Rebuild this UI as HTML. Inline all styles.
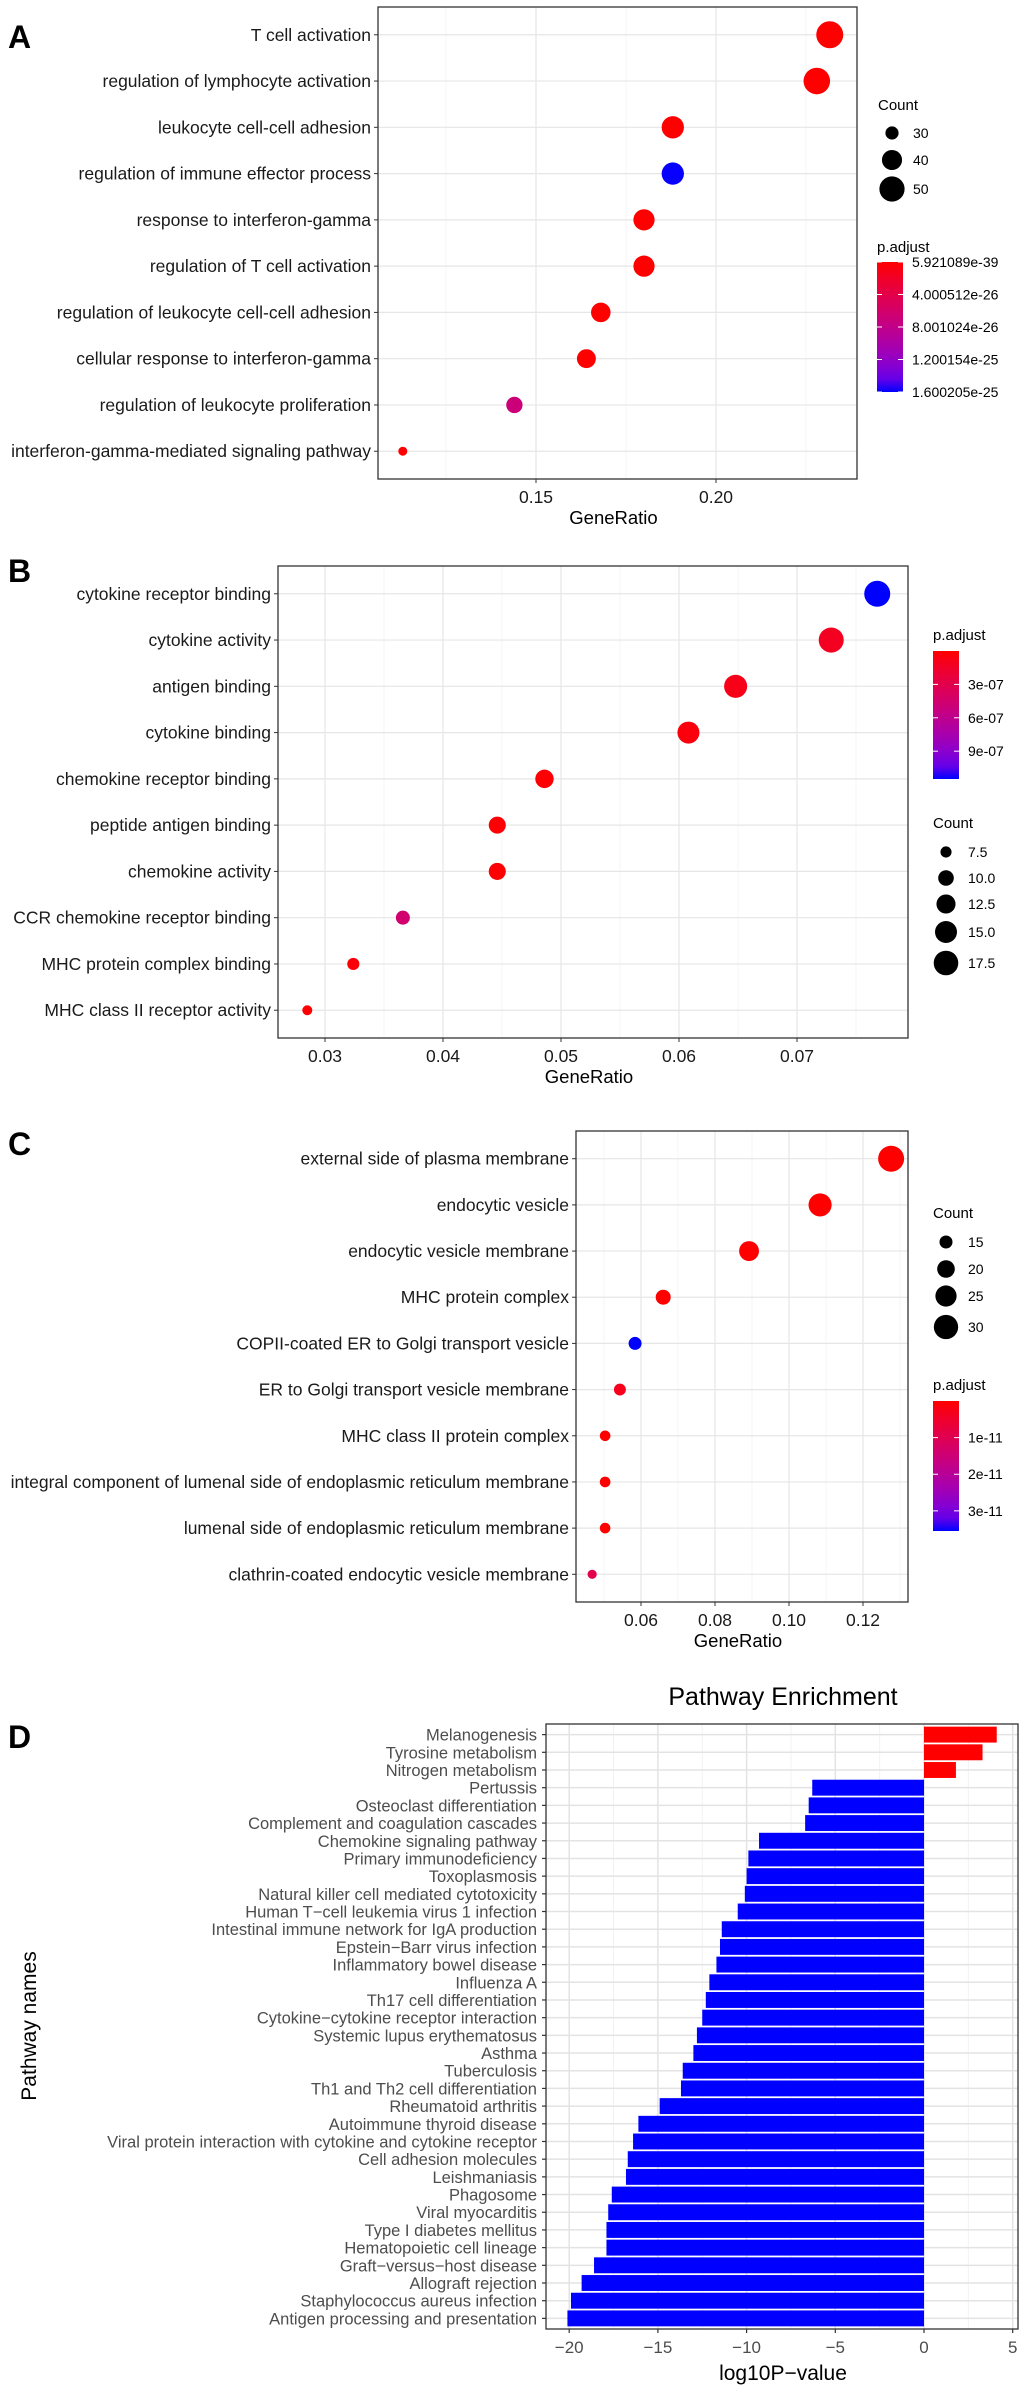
<!DOCTYPE html>
<html><head><meta charset="utf-8"><style>
html,body{margin:0;padding:0;background:#fff;}
svg{display:block;font-family:"Liberation Sans",Arial,sans-serif;}
</style></head><body>
<svg id="fig" width="1020" height="2391" viewBox="0 0 1020 2391" xmlns="http://www.w3.org/2000/svg">
<defs id="defs"></defs>
</svg>
<script>
// ---------- Panel A data ----------
const aTerms = ["T cell activation","regulation of lymphocyte activation","leukocyte cell-cell adhesion","regulation of immune effector process","response to interferon-gamma","regulation of T cell activation","regulation of leukocyte cell-cell adhesion","cellular response to interferon-gamma","regulation of leukocyte proliferation","interferon-gamma-mediated signaling pathway"];
const aRatio = [0.2316,0.228,0.188,0.188,0.180,0.180,0.168,0.164,0.144,0.113];
const aCount = [54,53,44,44,42,42,39,38,34,26];
const aPadj = [5.9e-39,1e-38,1e-38,1.6e-25,1e-38,1e-38,1e-38,1e-38,7e-26,1e-38];
const aTicks = [0.15,0.20];
const aTickLabels = ["0.15","0.20"];
const aCountKeys = [30,40,50];
const aPKeys = [5.921089e-39,4.000512e-26,8.001024e-26,1.200154e-25,1.600205e-25];
const aPLabels = ["5.921089e-39","4.000512e-26","8.001024e-26","1.200154e-25","1.600205e-25"];
// ---------- Panel B data ----------
const bTerms = ["cytokine receptor binding","cytokine activity","antigen binding","cytokine binding","chemokine receptor binding","peptide antigen binding","chemokine activity","CCR chemokine receptor binding","MHC protein complex binding","MHC class II receptor activity"];
const bRatio = [0.0768,0.0729,0.0648,0.0608,0.0486,0.0446,0.0446,0.0366,0.0324,0.0285];
const bCount = [19,18,16,15,12,11,11,9,8,7];
const bPadj = [1.15e-6,1.2e-7,8e-8,4e-8,1e-8,1e-8,1e-8,4.5e-7,3e-8,1e-8];
const bTicks = [0.03,0.04,0.05,0.06,0.07];
const bTickLabels = ["0.03","0.04","0.05","0.06","0.07"];
const bCountKeys = [7.5,10,12.5,15,17.5];
const bPKeys = [3e-7,6e-7,9e-7];
const bPLabels = ["3e-07","6e-07","9e-07"];
// ---------- Panel C data ----------
const cTerms = ["external side of plasma membrane","endocytic vesicle","endocytic vesicle membrane","MHC protein complex","COPII-coated ER to Golgi transport vesicle","ER to Golgi transport vesicle membrane","MHC class II protein complex","integral component of lumenal side of endoplasmic reticulum membrane","lumenal side of endoplasmic reticulum membrane","clathrin-coated endocytic vesicle membrane"];
const cRatio = [0.1276,0.1084,0.0892,0.066,0.0584,0.0543,0.0503,0.0503,0.0503,0.0468];
const cCount = [33,28,23,17,15,14,13,13,13,12];
const cPadj = [1e-13,1e-13,1e-13,1e-13,3.55e-11,3e-12,1e-13,1e-13,1e-13,9e-12];
const cTicks = [0.06,0.08,0.10,0.12];
const cTickLabels = ["0.06","0.08","0.10","0.12"];
const cCountKeys = [15,20,25,30];
const cPKeys = [1e-11,2e-11,3e-11];
const cPLabels = ["1e-11","2e-11","3e-11"];
// ---------- Panel D data ----------
const dPathways = ["Melanogenesis","Tyrosine metabolism","Nitrogen metabolism","Pertussis","Osteoclast differentiation","Complement and coagulation cascades","Chemokine signaling pathway","Primary immunodeficiency","Toxoplasmosis","Natural killer cell mediated cytotoxicity","Human T\u2212cell leukemia virus 1 infection","Intestinal immune network for IgA production","Epstein\u2212Barr virus infection","Inflammatory bowel disease","Influenza A","Th17 cell differentiation","Cytokine\u2212cytokine receptor interaction","Systemic lupus erythematosus","Asthma","Tuberculosis","Th1 and Th2 cell differentiation","Rheumatoid arthritis","Autoimmune thyroid disease","Viral protein interaction with cytokine and cytokine receptor","Cell adhesion molecules","Leishmaniasis","Phagosome","Viral myocarditis","Type I diabetes mellitus","Hematopoietic cell lineage","Graft\u2212versus\u2212host disease","Allograft rejection","Staphylococcus aureus infection","Antigen processing and presentation"];
const dValues = [4.1,3.3,1.8,-6.3,-6.5,-6.7,-9.3,-9.9,-10.0,-10.1,-10.5,-11.4,-11.5,-11.7,-12.1,-12.3,-12.5,-12.8,-13.0,-13.6,-13.7,-14.9,-16.1,-16.4,-16.7,-16.8,-17.6,-17.8,-17.9,-17.9,-18.6,-19.3,-19.9,-20.1];
const dTicks = [-20,-15,-10,-5,0,5];
const dTickLabels = ["\u221220","\u221215","\u221210","\u22125","0","5"];

const NS = "http://www.w3.org/2000/svg";
const svg = document.getElementById("fig");
const defs = document.getElementById("defs");
function mk(tag, attrs, parent, txt){
  const e = document.createElementNS(NS, tag);
  for (const k in attrs) e.setAttribute(k, attrs[k]);
  if (txt !== undefined) e.textContent = txt;
  (parent || svg).appendChild(e);
  return e;
}
function pcol(t){
  t = Math.max(0, Math.min(1, t));
  const r = Math.round(255 * Math.pow(1 - t, 0.4));
  const b = Math.round(255 * Math.pow(t, 0.9));
  return "rgb(" + r + ",0," + b + ")";
}

function dotPanel(cfg){
  const g = mk("g", {});
  
  
  const L = cfg.left, R = cfg.right, T = cfg.top, B = cfg.bottom;
  const x = v => L + (v - cfg.d0) / (cfg.d1 - cfg.d0) * (R - L);
  const n = cfg.terms.length;
  const step = (B - T) / (n - 1 + 1.2);
  const y = i => T + (0.6 + i) * step;
  const cmin = Math.min(...cfg.counts), cmax = Math.max(...cfg.counts);
  const rad = c => Math.sqrt(cfg.rmin*cfg.rmin + (c - cmin) / (cmax - cmin) * (cfg.rmax*cfg.rmax - cfg.rmin*cfg.rmin));
  const pt = p => (p - cfg.p0) / (cfg.p1 - cfg.p0);
  const bg = mk("rect", {x:L, y:T, width:R-L, height:B-T, fill:"#fff"}, g);
  
  
  cfg.minor.forEach(v => {
    const ln = mk("line", {x1:x(v), x2:x(v), y1:T, y2:B, stroke:"#f2f2f2", "stroke-width":0.8}, g);
    
    
  });
  cfg.ticks.forEach(v => {
    const ln = mk("line", {x1:x(v), x2:x(v), y1:T, y2:B, stroke:"#e6e6e6", "stroke-width":1.2}, g);
    
    
  });
  cfg.terms.forEach((t, i) => {
    const ln = mk("line", {x1:L, x2:R, y1:y(i), y2:y(i), stroke:"#e6e6e6", "stroke-width":1.2}, g);
    
    
  });
  cfg.terms.forEach((t, i) => {
    const c = mk("circle", {cx:x(cfg.ratios[i]), cy:y(i), r:rad(cfg.counts[i]), fill:pcol(pt(cfg.padj[i]))}, g);
    
    
  });
  const fr = mk("rect", {x:L, y:T, width:R-L, height:B-T, fill:"none", stroke:"#333", "stroke-width":1.3}, g);
  
  
  cfg.terms.forEach((t, i) => {
    const tk = mk("line", {x1:L-4, x2:L, y1:y(i), y2:y(i), stroke:"#333", "stroke-width":1}, g);
    
    
    const tx = mk("text", {x:L-7, y:y(i)+6, "text-anchor":"end", "font-size":cfg.fs, fill:"#1a1a1a"}, g, t);
    
    
  });
  cfg.ticks.forEach((v, i) => {
    const tk = mk("line", {x1:x(v), x2:x(v), y1:B, y2:B+4, stroke:"#333", "stroke-width":1}, g);
    
    
    const tx = mk("text", {x:x(v), y:B+24, "text-anchor":"middle", "font-size":cfg.fs, fill:"#1a1a1a"}, g, cfg.tickLabels[i]);
    
    
  });
  const xt = mk("text", {x:(L+R)/2 - 4, y:B+45, "text-anchor":"middle", "font-size":cfg.fs+1, fill:"#000"}, g, "GeneRatio");
  
  
  const pl = mk("text", {x:8, y:cfg.letterY, "font-size":32, "font-weight":"bold", fill:"#000"}, g, cfg.letter);
  
  
  const cl = cfg.countLeg;
  const ct = mk("text", {x:cl.x, y:cl.titleY, "font-size":15, fill:"#000"}, g, "Count");
  
  
  cfg.countKeys.forEach((k, i) => {
    const c = mk("circle", {cx:cl.kx, cy:cl.ys[i], r:rad(k), fill:"#000"}, g);
    
    
    const tx = mk("text", {x:cl.lx, y:cl.ys[i]+5, "font-size":14, fill:"#000"}, g, String(cfg.countFmt ? k.toFixed(1) : k));
    
    
  });
  const pl2 = cfg.pLeg;
  const pt2 = mk("text", {x:pl2.x, y:pl2.titleY, "font-size":15, fill:"#000"}, g, "p.adjust");
  
  
  const gid = "grad" + cfg.letter;
  const lg = mk("linearGradient", {id:gid, x1:0, y1:0, x2:0, y2:1}, defs);
  for (let s = 0; s <= 10; s++) mk("stop", {offset:s/10, "stop-color":pcol(s/10)}, lg);
  const bar = mk("rect", {x:pl2.x, y:pl2.top, width:26, height:pl2.bottom-pl2.top, fill:"url(#"+gid+")"}, g);
  
  
  const py = p => pl2.top + pt(p) * (pl2.bottom - pl2.top);
  cfg.pKeys.forEach((p, i) => {
    const yy = py(p);
    const t1 = mk("line", {x1:pl2.x, x2:pl2.x+5, y1:yy, y2:yy, stroke:"#fff", "stroke-width":1}, g);
    
    
    const t2 = mk("line", {x1:pl2.x+21, x2:pl2.x+26, y1:yy, y2:yy, stroke:"#fff", "stroke-width":1}, g);
    
    
    const tx = mk("text", {x:pl2.x+35, y:yy+5, "font-size":14, fill:"#000"}, g, cfg.pLabels[i]);
    
    
  });
}

dotPanel({name:"panel-a-bp-dotplot", letter:"A", letterY:48, left:378, right:857, top:7, bottom:479,
  d0:0.15-158/3600, d1:0.15+321/3600, ticks:aTicks, tickLabels:aTickLabels, minor:[0.125,0.175,0.225],
  terms:aTerms, ratios:aRatio, counts:aCount, padj:aPadj, p0:5.921089e-39, p1:1.600205e-25,
  rmin:4.5, rmax:13.5, fs:17.5, countKeys:aCountKeys, pKeys:aPKeys, pLabels:aPLabels,
  countLeg:{x:878, titleY:110, kx:892, lx:913, ys:[133,160,189]},
  pLeg:{x:877, titleY:252, top:262, bottom:392}});

dotPanel({name:"panel-b-mf-dotplot", letter:"B", letterY:582, left:278, right:908, top:566, bottom:1038,
  d0:0.03-47/11800, d1:0.03+583/11800, ticks:bTicks, tickLabels:bTickLabels, minor:[0.035,0.045,0.055,0.065,0.075],
  terms:bTerms, ratios:bRatio, counts:bCount, padj:bPadj, p0:0, p1:1.15e-6,
  rmin:5, rmax:13, fs:17.5, countFmt:true, countKeys:bCountKeys, pKeys:bPKeys, pLabels:bPLabels,
  countLeg:{x:933, titleY:828, kx:946, lx:968, ys:[852,878,904,932,963]},
  pLeg:{x:933, titleY:640, top:651, bottom:779}});

dotPanel({name:"panel-c-cc-dotplot", letter:"C", letterY:1155, left:576, right:908, top:1131, bottom:1602,
  d0:0.06-65/3700, d1:0.06+267/3700, ticks:cTicks, tickLabels:cTickLabels, minor:[0.05,0.07,0.09,0.11,0.13],
  terms:cTerms, ratios:cRatio, counts:cCount, padj:cPadj, p0:0, p1:3.55e-11,
  rmin:4.6, rmax:13, fs:17.5, countKeys:cCountKeys, pKeys:cPKeys, pLabels:cPLabels,
  countLeg:{x:933, titleY:1218, kx:946, lx:968, ys:[1242,1269,1296,1327]},
  pLeg:{x:933, titleY:1390, top:1401, bottom:1531}});

(function(){
  const g = mk("g", {});
  
  
  const L = 546, R = 1018, T = 1724, B = 2329;
  const x0 = 924, unit = 17.74;
  const x = v => x0 + v * unit;
  const n = dPathways.length;
  const step = (B - T) / (n - 1 + 1.2);
  const y = i => T + (0.6 + i) * step;
  const bh = step * 0.9;
  [-17.5,-12.5,-7.5,-2.5,2.5].forEach(v => {
    const ln = mk("line", {x1:x(v), x2:x(v), y1:T, y2:B, stroke:"#f2f2f2", "stroke-width":1}, g);
    
    
  });
  dTicks.forEach(v => {
    const ln = mk("line", {x1:x(v), x2:x(v), y1:T, y2:B, stroke:"#e3e3e3", "stroke-width":1.5}, g);
    
    
  });
  dPathways.forEach((p, i) => {
    const ln = mk("line", {x1:L, x2:R, y1:y(i), y2:y(i), stroke:"#e3e3e3", "stroke-width":1.5}, g);
    
    
  });
  dPathways.forEach((p, i) => {
    const v = dValues[i];
    const bx = Math.min(x(0), x(v)), bw = Math.abs(x(v) - x(0));
    const r = mk("rect", {x:bx, y:y(i)-bh/2, width:bw, height:bh, fill:v > 0 ? "#ff0000" : "#0000ff"}, g);
    
    
    const tk = mk("line", {x1:L-4, x2:L, y1:y(i), y2:y(i), stroke:"#333", "stroke-width":1.2}, g);
    
    
    const tx = mk("text", {x:L-9, y:y(i)+6, "text-anchor":"end", "font-size":16.5, fill:"#4d4d4d"}, g, p);
    
    
  });
  const fr = mk("rect", {x:L, y:T, width:R-L, height:B-T, fill:"none", stroke:"#333", "stroke-width":1.3}, g);
  
  
  dTicks.forEach((v, i) => {
    const tk = mk("line", {x1:x(v), x2:x(v), y1:B, y2:B+4, stroke:"#333", "stroke-width":1.2}, g);
    
    
    const tx = mk("text", {x:x(v), y:B+24, "text-anchor":"middle", "font-size":17, fill:"#4d4d4d"}, g, dTickLabels[i]);
    
    
  });
  const xt = mk("text", {x:783, y:2380, "text-anchor":"middle", "font-size":21, fill:"#000"}, g, "log10P\u2212value");
  
  
  const ti = mk("text", {x:783, y:1705, "text-anchor":"middle", "font-size":25, fill:"#000"}, g, "Pathway Enrichment");
  
  
  const yt = mk("text", {x:0, y:0, "text-anchor":"middle", "font-size":21, fill:"#000", transform:"translate(36,2026) rotate(-90)"}, g, "Pathway names");
  
  
  const pl = mk("text", {x:8, y:1748, "font-size":32, "font-weight":"bold", fill:"#000"}, g, "D");
  
  
})();
</script>
</body></html>
